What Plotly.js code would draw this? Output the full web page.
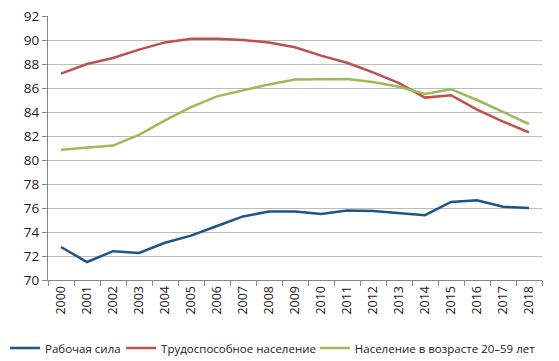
<!DOCTYPE html>
<html><head><meta charset="utf-8">
<script src="https://cdn.plot.ly/plotly-3.0.1.min.js"></script>
<style>html,body{margin:0;padding:0;background:#fff}</style>
</head><body>
<div id="chart" style="width:559px;height:361px"></div>
<script>
const years = ["2000","2001","2002","2003","2004","2005","2006","2007","2008","2009","2010","2011","2012","2013","2014","2015","2016","2017","2018"];
const labourForce = [72.75,71.5,72.4,72.25,73.1,73.7,74.5,75.3,75.7,75.7,75.5,75.8,75.75,75.6,75.4,76.5,76.65,76.1,76.0];
const workingAge = [87.2,88.0,88.5,89.2,89.8,90.1,90.1,90.0,89.8,89.4,88.7,88.1,87.3,86.4,85.2,85.4,84.2,83.2,82.3];
const age20to59 = [80.85,81.0,81.2,82.1,83.3,84.4,85.3,85.8,86.3,86.7,86.75,86.75,86.5,86.1,85.5,85.9,85.0,84.0,83.0];
const names = ["Рабочая сила","Трудоспособное население","Население в возрасте 20–59 лет"];

const mk = (y, name, color, leg) => ({x: years, y: y, name: name, type: 'scatter', mode: 'lines',
  line: {color: color, width: 2.5}, legend: leg});
const data = [
  mk(labourForce, names[0], '#1f5487', 'legend'),
  mk(workingAge, names[1], '#c0504d', 'legend2'),
  mk(age20to59, names[2], '#9bbb59', 'legend3')
];
const legBase = (x) => ({orientation: 'h', x: x, xanchor: 'left', y: -0.2576, yanchor: 'middle',
  font: {size: 11.5, color: '#222'}, itemwidth: 30, bgcolor: 'rgba(0,0,0,0)'});
const layout = {
  width: 559, height: 361,
  margin: {l: 48, r: 17, t: 16, b: 81, autoexpand: false},
  paper_bgcolor: '#fff', plot_bgcolor: '#fff',
  font: {family: 'Open Sans, sans-serif', size: 12, color: '#222'},
  showlegend: true,
  legend: legBase(-0.087),
  legend2: legBase(0.148),
  legend3: legBase(0.540),
  xaxis: {type: 'category', tickangle: -90, showgrid: false, showline: true, linecolor: '#888', linewidth: 1,
    ticks: 'outside', tickson: 'boundaries', ticklen: 5, tickcolor: '#888', automargin: false,
    tickfont: {size: 12.5}, range: [-0.5, 18.5]},
  yaxis: {range: [70, 92], dtick: 2, showgrid: true, gridcolor: '#bdbdbd', gridwidth: 1, automargin: false,
    showline: true, linecolor: '#888', ticks: 'outside', ticklen: 5, tickcolor: '#888',
    tickfont: {size: 13.5}, zeroline: false}
};
Plotly.newPlot('chart', data, layout, {displayModeBar: false, staticPlot: true});
</script>
</body></html>
